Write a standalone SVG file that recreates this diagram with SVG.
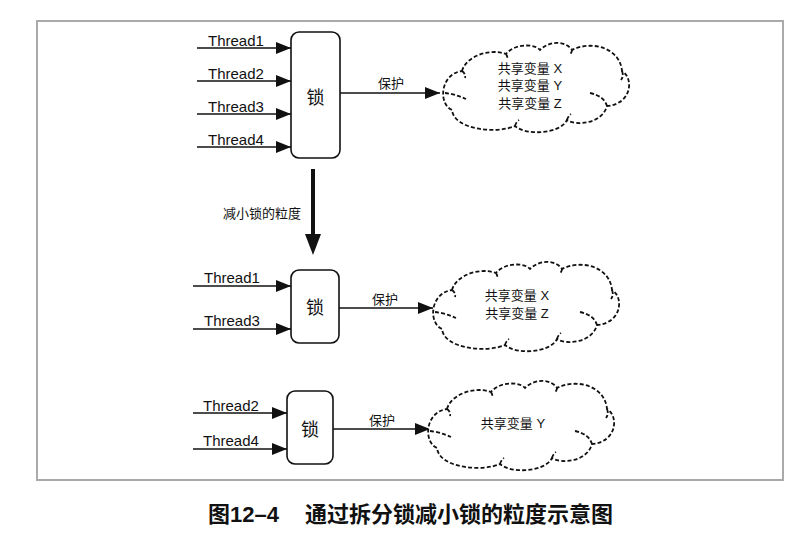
<svg xmlns="http://www.w3.org/2000/svg" width="799" height="545" viewBox="0 0 799 545">
<style>
text{font-family:"Liberation Sans","Noto Sans CJK SC",sans-serif;fill:#111}
.t{font-size:15px}
.s{font-size:13px}
.lk{font-size:18px;text-anchor:middle}
.box{fill:#fff;stroke:#111;stroke-width:1.6}
.ln{stroke:#111;stroke-width:1.4;fill:none}
.cl{fill:#fff;stroke:#111;stroke-width:1.8;stroke-dasharray:4 2.2}
.cu{fill:none;stroke:#111;stroke-width:1.8;stroke-dasharray:4 2.2}
</style>
<defs>
<marker id="ah" markerUnits="userSpaceOnUse" markerWidth="16" markerHeight="14" refX="15" refY="7" orient="auto">
<path d="M0,1 L15,7 L0,13 Z" fill="#111"/>
</marker>
<g id="cloud">
<path class="cl" d="M20,33 C24,18 48,10 64,16 C72,6 92,5 98,12 C108,2 124,3 130,12 C150,2 178,10 180,33 C192,40 190,66 165,68 C160,86 134,88 125,82 C118,96 84,98 73,88 C55,96 12,92 10,72 C-4,66 -2,36 20,33 Z"/>
<path class="cu" d="M3,55 Q13,56 24,61 M148,55 Q162,58 165,68 M20,33 Q24,36 23,40 M64,16 Q66,19 65,22 M130,12 Q130,15 127,17 M180,33 Q182,38 179,42 M125,82 Q126,78 129,76 M73,88 Q74,84 77,82"/>
</g>
</defs>
<rect x="37" y="21" width="746" height="459" fill="none" stroke="#aaa" stroke-width="2"/>

<g id="connectors">
<line class="ln" x1="197" y1="48" x2="291" y2="48" marker-end="url(#ah)"/>
<line class="ln" x1="197" y1="81" x2="291" y2="81" marker-end="url(#ah)"/>
<line class="ln" x1="197" y1="114" x2="291" y2="114" marker-end="url(#ah)"/>
<line class="ln" x1="197" y1="147" x2="291" y2="147" marker-end="url(#ah)"/>
<line class="ln" x1="340" y1="93" x2="440" y2="93" marker-end="url(#ah)"/>
<line x1="313" y1="169" x2="313" y2="236" stroke="#111" stroke-width="4"/>
<path d="M305,234 L321,234 L313,255 Z" fill="#111"/>
<line class="ln" x1="193" y1="286" x2="291" y2="286" marker-end="url(#ah)"/>
<line class="ln" x1="193" y1="329" x2="291" y2="329" marker-end="url(#ah)"/>
<line class="ln" x1="339" y1="308" x2="433" y2="308" marker-end="url(#ah)"/>
<line class="ln" x1="193" y1="413" x2="287" y2="413" marker-end="url(#ah)"/>
<line class="ln" x1="193" y1="449" x2="287" y2="449" marker-end="url(#ah)"/>
<line class="ln" x1="333" y1="429" x2="430" y2="429" marker-end="url(#ah)"/>
<text class="s" x="378" y="88">保护</text>
<text class="s" x="372" y="304">保护</text>
<text class="s" x="369" y="425">保护</text>
<text class="s" x="223" y="218">减小锁的粒度</text>
</g>

<g id="threads-top">
<text class="t" x="208" y="46">Thread1</text>
<text class="t" x="208" y="79">Thread2</text>
<text class="t" x="208" y="112">Thread3</text>
<text class="t" x="208" y="145">Thread4</text>
</g>
<g id="lock-top">
<rect class="box" x="291" y="32" width="49" height="126" rx="8"/>
<text class="lk" x="315.5" y="104">锁</text>
</g>
<g id="cloud-top">
<use href="#cloud" transform="translate(442,38)"/>
<text class="s" x="530" y="73" text-anchor="middle">共享变量 X</text>
<text class="s" x="530" y="90" text-anchor="middle">共享变量 Y</text>
<text class="s" x="530" y="108" text-anchor="middle">共享变量 Z</text>
</g>

<g id="threads-mid">
<text class="t" x="204" y="283">Thread1</text>
<text class="t" x="204" y="326">Thread3</text>
</g>
<g id="lock-mid">
<rect class="box" x="291" y="270" width="48" height="73" rx="8"/>
<text class="lk" x="315" y="314">锁</text>
</g>
<g id="cloud-mid">
<use href="#cloud" transform="translate(432,257)"/>
<text class="s" x="517" y="300" text-anchor="middle">共享变量 X</text>
<text class="s" x="517" y="318" text-anchor="middle">共享变量 Z</text>
</g>

<g id="threads-bot">
<text class="t" x="203" y="411">Thread2</text>
<text class="t" x="203" y="446">Thread4</text>
</g>
<g id="lock-bot">
<rect class="box" x="287" y="391" width="46" height="73" rx="8"/>
<text class="lk" x="310" y="436">锁</text>
</g>
<g id="cloud-bot">
<use href="#cloud" transform="translate(427,376)"/>
<text class="s" x="513" y="428" text-anchor="middle">共享变量 Y</text>
</g>

<g id="caption">
<text x="208" y="522" font-size="22" font-weight="bold" fill="#222">图12–4</text>
<text x="305" y="522" font-size="22" font-weight="bold" fill="#222">通过拆分锁减小锁的粒度示意图</text>
</g>
</svg>
